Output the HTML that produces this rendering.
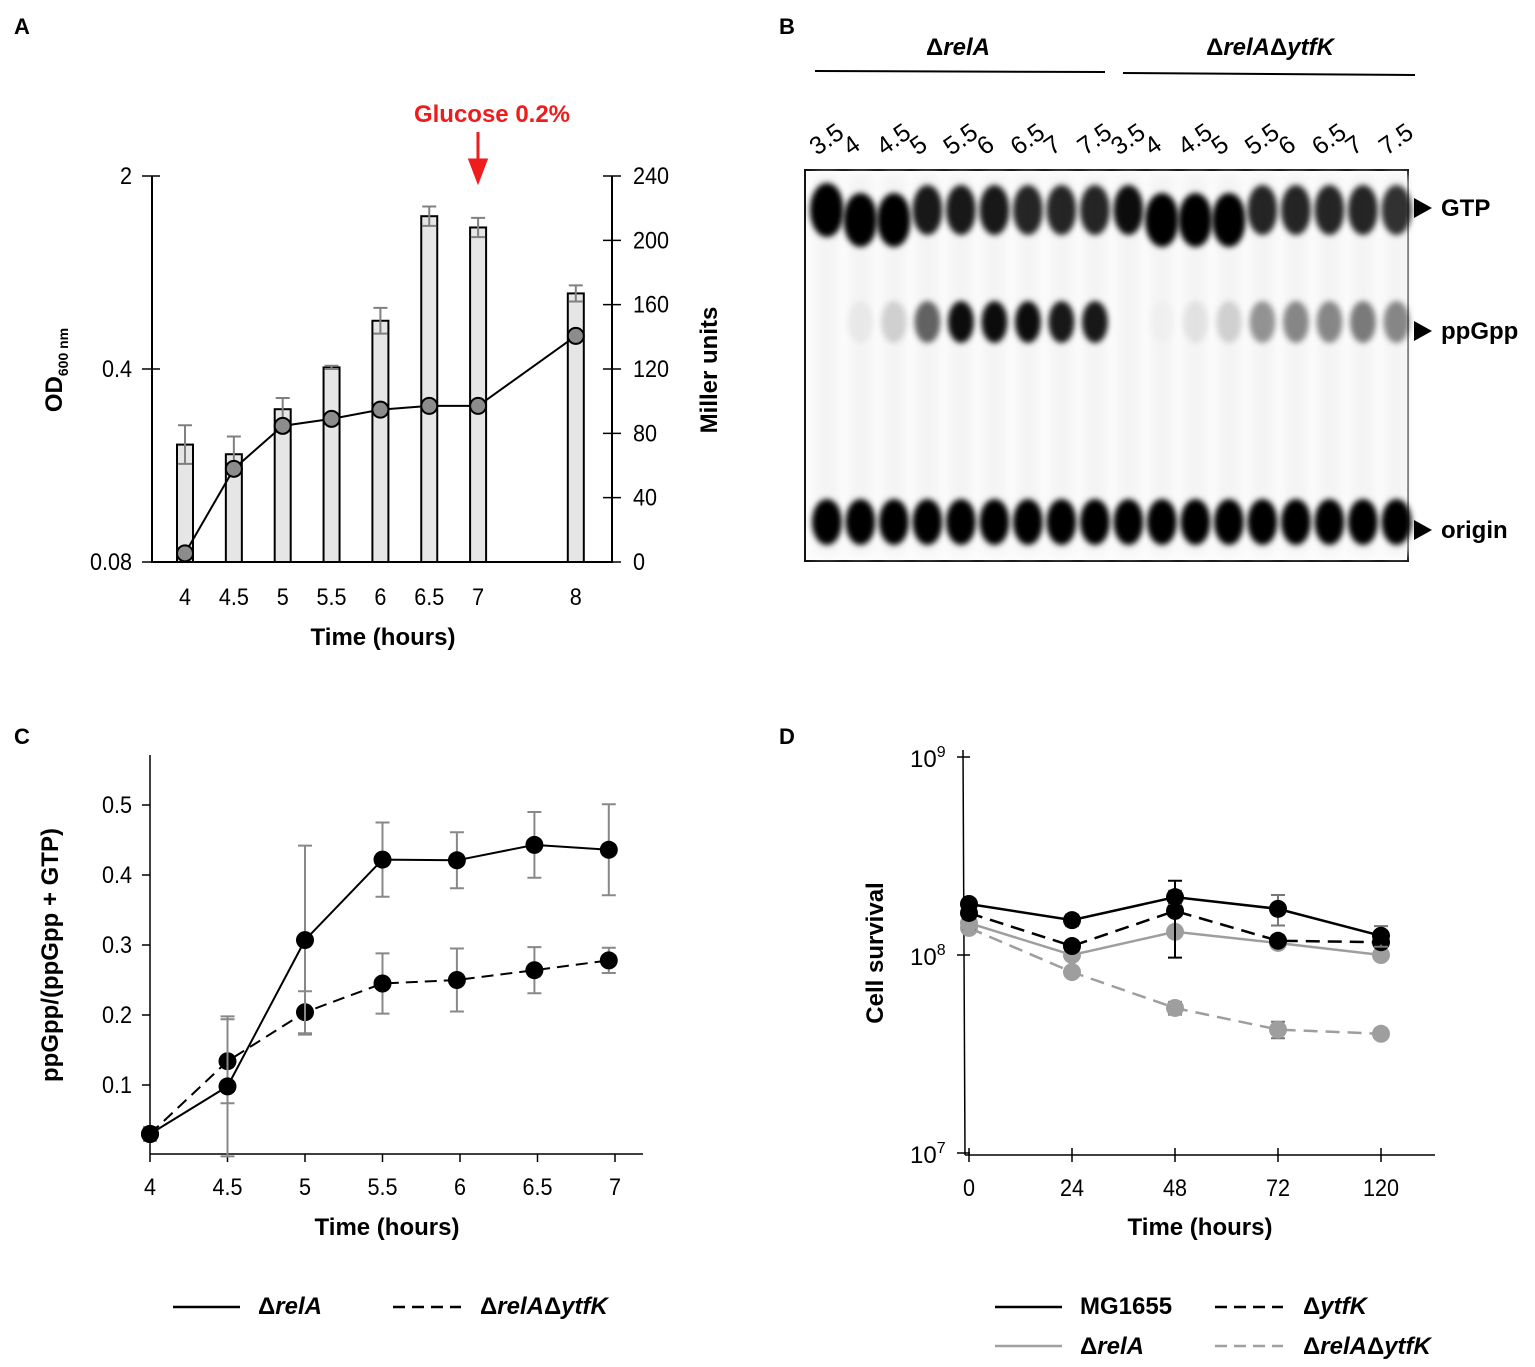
<!DOCTYPE html>
<html><head><meta charset="utf-8"><style>
html,body{margin:0;padding:0;background:#fff;}
svg{display:block;font-family:"Liberation Sans",Arial,sans-serif;}
.tk{font-size:24px;}
</style></head><body>
<svg id="fig" width="1535" height="1367" viewBox="0 0 1535 1367" xmlns="http://www.w3.org/2000/svg">
<defs>
<filter id="blur" x="-50%" y="-50%" width="200%" height="200%"><feGaussianBlur stdDeviation="3"/></filter>
<filter id="blur2" x="-50%" y="-50%" width="200%" height="200%"><feGaussianBlur stdDeviation="5"/></filter>
</defs>
<g font-weight="bold" font-size="22">
<text x="14" y="34">A</text>
<text x="779" y="34">B</text>
<text x="14" y="744">C</text>
<text x="779" y="744">D</text>
</g>
<g id="pa"></g>
<g id="pb"></g>
<g id="pc"></g>
<g id="pd"></g>
</svg>
<script>
// ---- Panel A data ----
const aTimes = [4, 4.5, 5, 5.5, 6, 6.5, 7, 8];
const aMiller = [73, 67, 95, 121, 150, 215, 208, 167];
const aMillerErr = [12, 11, 7, 1, 8, 6, 6, 5];
const aOD = [0.086, 0.174, 0.249, 0.264, 0.285, 0.294, 0.294, 0.527];
const aLeftTicks = [2, 0.4, 0.08];
const aRightTicks = [0, 40, 80, 120, 160, 200, 240];
// ---- Panel B data ----
const bLaneLabels = ["3.5","4","4.5","5","5.5","6","6.5","7","7.5","3.5","4","4.5","5","5.5","6","6.5","7","7.5"];
const bGTP = [1.0,1.0,1.0,0.9,0.9,0.9,0.85,0.85,0.85,0.95,1.0,1.0,1.0,0.85,0.85,0.85,0.85,0.8];
const bPpGpp = [0,0.05,0.15,0.6,0.95,0.95,0.95,0.9,0.9,0,0.02,0.08,0.15,0.4,0.45,0.45,0.5,0.45];
// ---- Panel C data ----
const cTimes = [4, 4.5, 5, 5.5, 5.98, 6.48, 6.96];
const cRelA = [0.03, 0.098, 0.307, 0.422, 0.421, 0.443, 0.436];
const cRelAErr = [0.005, 0.1, 0.135, 0.053, 0.04, 0.047, 0.065];
const cRelAYtfK = [0.03, 0.134, 0.204, 0.245, 0.25, 0.264, 0.278];
const cRelAYtfKErr = [0.01, 0.06, 0.03, 0.043, 0.045, 0.033, 0.018];
const cXTicks = [4, 4.5, 5, 5.5, 6, 6.5, 7];
const cYTicks = [0.1, 0.2, 0.3, 0.4, 0.5];
// ---- Panel D data ----
const dTimes = ["0", "24", "48", "72", "120"];
const dMG1655 = [1.81e8, 1.50e8, 1.96e8, 1.71e8, 1.25e8];
const dMG1655Err = [0.1e8, 0.1e8, 0.15e8, 0.3e8, 0.15e8];
const dYtfK = [1.63e8, 1.11e8, 1.67e8, 1.18e8, 1.16e8];
const dYtfKErr = [0.1e8, 0.05e8, 0.7e8, 0.05e8, 0.05e8];
const dRelA = [1.45e8, 1.0e8, 1.31e8, 1.15e8, 1.0e8];
const dRelAErr = [0.1e8, 0.05e8, 0.05e8, 0.05e8, 0.05e8];
const dRelAYtfK = [1.37e8, 0.82e8, 0.54e8, 0.42e8, 0.40e8];
const dRelAYtfKErr = [0.05e8, 0.03e8, 0.04e8, 0.04e8, 0.02e8];
const dYTicks = [7, 8, 9];

const NS = "http://www.w3.org/2000/svg";
function mk(parent, tag, attrs, text) {
  const e = document.createElementNS(NS, tag);
  for (const k in attrs) e.setAttribute(k, attrs[k]);
  if (text !== undefined) e.textContent = text;
  parent.appendChild(e);
  return e;
}
// condensed text helper: draws text scaled horizontally
function ctext(parent, x, y, anchor, size, str, sx) {
  sx = sx || 0.9;
  const t = mk(parent,'text',{transform:`translate(${x},${y}) scale(${sx},1)`,'text-anchor':anchor,'font-size':size},str);
  return t;
}

// ================= Panel A =================
(function(){
  const g = document.getElementById('pa');
  const xA = t => 185 + (t - 4) * 97.7;
  const yM = v => 562 - v * (386 / 240);
  const yOD = v => 562 - Math.log10(v / 0.08) / Math.log10(25) * 386;
  let e = mk(g,'line',{x1:152,y1:176,x2:152,y2:563,stroke:'#000','stroke-width':2});
   
  e = mk(g,'line',{x1:612,y1:176,x2:612,y2:563,stroke:'#000','stroke-width':2});
   
  e = mk(g,'line',{x1:152,y1:562,x2:612,y2:562,stroke:'#000','stroke-width':2});
   
  aLeftTicks.forEach(v => {
    const y = yOD(v);
    mk(g,'line',{x1:142,y1:y,x2:160,y2:y,stroke:'#000','stroke-width':1.5});
    const t = ctext(g,132,y+8,'end',24,String(v));
     
  });
  aRightTicks.forEach(v => {
    const y = yM(v);
    mk(g,'line',{x1:603,y1:y,x2:621,y2:y,stroke:'#000','stroke-width':1.5});
    const t = ctext(g,633,y+8,'start',24,String(v));
     
  });
  aTimes.forEach((tm,i) => {
    const x = xA(tm);
    const b = mk(g,'rect',{x:x-8,y:yM(aMiller[i]),width:16,height:562-yM(aMiller[i]),fill:'#e6e6e6',stroke:'#000','stroke-width':2});
     
    const y1 = yM(aMiller[i]+aMillerErr[i]), y2 = yM(aMiller[i]-aMillerErr[i]);
    mk(g,'path',{d:`M${x},${y1}V${y2}M${x-7},${y1}H${x+7}M${x-7},${y2}H${x+7}`,stroke:'#808080','stroke-width':2,fill:'none'});
    const t = ctext(g,x,605,'middle',24,String(tm));
     
  });
  const pl = mk(g,'polyline',{points:aTimes.map((t,i)=>xA(t)+','+yOD(aOD[i])).join(' '),fill:'none',stroke:'#000','stroke-width':2});
   
  aTimes.forEach((t,i)=>{
    const c = mk(g,'circle',{cx:xA(t),cy:yOD(aOD[i]),r:8,fill:'#8c8c8c',stroke:'#000','stroke-width':2});
     
  });
  let t = mk(g,'text',{x:383,y:645,'text-anchor':'middle','font-size':24,'font-weight':'bold'},'Time (hours)');
   
  t = mk(g,'text',{transform:'translate(62,370) rotate(-90)','text-anchor':'middle','font-size':24,'font-weight':'bold'});
   
  mk(t,'tspan',{},'OD');
  mk(t,'tspan',{'font-size':14,dy:6},'600 nm');
  t = mk(g,'text',{transform:'translate(717,370) rotate(-90)','text-anchor':'middle','font-size':24,'font-weight':'bold'},'Miller units');
   
  t = mk(g,'text',{x:492,y:122,'text-anchor':'middle','font-size':24,'font-weight':'bold',fill:'#ee1c1c'},'Glucose 0.2%');
   
  const ar = mk(g,'path',{d:'M478,132V165M470,160L478,181L486,160Z',stroke:'#ee1c1c','stroke-width':3,fill:'#ee1c1c'});
   
})();

// ================= Panel B =================
(function(){
  const g = document.getElementById('pb');
  let t = mk(g,'text',{x:958,y:55,'text-anchor':'middle','font-size':24,'font-weight':'bold'});
   
  mk(t,'tspan',{},'Δ'); mk(t,'tspan',{'font-style':'italic'},'relA');
  mk(g,'line',{x1:815,y1:71,x2:1105,y2:72,stroke:'#000','stroke-width':2});
  t = mk(g,'text',{x:1270,y:55,'text-anchor':'middle','font-size':24,'font-weight':'bold'});
   
  mk(t,'tspan',{},'Δ'); mk(t,'tspan',{'font-style':'italic'},'relA'); mk(t,'tspan',{},'Δ'); mk(t,'tspan',{'font-style':'italic'},'ytfK');
  mk(g,'line',{x1:1123,y1:73,x2:1415,y2:75,stroke:'#000','stroke-width':2});
  const gel = mk(g,'rect',{x:805,y:170,width:603,height:391,fill:'#fdfdfd',stroke:'#111','stroke-width':2});
   
  const lx = i => 827 + i * 33.5;
  const low = [1,2,10,11,12];
  bLaneLabels.forEach((lab,i)=>{
    const x = lx(i);
    mk(g,'rect',{x:x-12,y:175,width:24,height:380,fill:'#f4f4f4',filter:'url(#blur2)'});
    const dy = low.indexOf(i) >= 0 ? 10 : 0;
    const big = (i===10||i===11||i===12||i<3) ? 2 : 0;
    const gt = mk(g,'ellipse',{cx:x,cy:210+dy,rx:15+big,ry:25+big,fill:'#000','fill-opacity':bGTP[i],filter:'url(#blur)'});
     
    if (bPpGpp[i] > 0) {
      const p = mk(g,'ellipse',{cx:x,cy:322,rx:13,ry:21,fill:'#000','fill-opacity':bPpGpp[i],filter:'url(#blur)'});
       
    }
    const o = mk(g,'ellipse',{cx:x,cy:522,rx:15,ry:23,fill:'#000',filter:'url(#blur)'});
     
    const tt = mk(g,'text',{transform:`translate(${x-10},${156}) rotate(-35)`,'font-size':25},lab);
     
  });
  [['GTP',208],['ppGpp',331],['origin',530]].forEach(([n,y])=>{
    mk(g,'path',{d:`M1414,${y-10}L1432,${y}L1414,${y+10}Z`,fill:'#000'});
    const l = mk(g,'text',{x:1441,y:y+8,'font-size':24,'font-weight':'bold'},n);
     
  });
})();

// ================= Panel C =================
(function(){
  const g = document.getElementById('pc');
  const xC = t => 150 + (t - 4) * 155;
  const yC = v => 1155 - v * 700;
  let e = mk(g,'line',{x1:150,y1:755,x2:150,y2:1154,stroke:'#000','stroke-width':1.5});
   
  e = mk(g,'line',{x1:150,y1:1154,x2:643,y2:1154,stroke:'#000','stroke-width':1.5});
   
  cYTicks.forEach(v=>{
    const y = yC(v);
    mk(g,'line',{x1:142,y1:y,x2:150,y2:y,stroke:'#000','stroke-width':1.5});
    const t = ctext(g,132,y+8,'end',24,String(v));
     
  });
  cXTicks.forEach(v=>{
    const x = xC(v);
    mk(g,'line',{x1:x,y1:1154,x2:x,y2:1162,stroke:'#000','stroke-width':1.5});
    const t = ctext(g,x,1195,'middle',24,String(v));
     
  });
  function series(vals, errs, dash, name) {
    vals.forEach((v,i)=>{
      const x = xC(cTimes[i]), y1 = yC(v+errs[i]), y2 = yC(v-errs[i]);
      mk(g,'path',{d:`M${x},${y1}V${y2}M${x-7},${y1}H${x+7}M${x-7},${y2}H${x+7}`,stroke:'#888','stroke-width':2,fill:'none'});
    });
    const pl = mk(g,'polyline',{points:cTimes.map((t,i)=>xC(t)+','+yC(vals[i])).join(' '),fill:'none',stroke:'#000','stroke-width':2,'stroke-dasharray':dash});
     
    vals.forEach((v,i)=>{
      const c = mk(g,'circle',{cx:xC(cTimes[i]),cy:yC(v),r:9,fill:'#000'});
       
    });
  }
  series(cRelAYtfK, cRelAYtfKErr, '12,7', 'rela-ytfk');
  series(cRelA, cRelAErr, 'none', 'rela');
  let t = mk(g,'text',{x:387,y:1235,'text-anchor':'middle','font-size':24,'font-weight':'bold'},'Time (hours)');
   
  t = mk(g,'text',{transform:'translate(58,955) rotate(-90)','text-anchor':'middle','font-size':24,'font-weight':'bold'},'ppGpp/(ppGpp + GTP)');
   
  mk(g,'line',{x1:173,y1:1307,x2:240,y2:1307,stroke:'#000','stroke-width':2.5});
  t = mk(g,'text',{x:258,y:1314,'font-size':24,'font-weight':'bold'});
   
  mk(t,'tspan',{},'Δ'); mk(t,'tspan',{'font-style':'italic'},'relA');
  mk(g,'line',{x1:393,y1:1307,x2:461,y2:1307,stroke:'#000','stroke-width':2.5,'stroke-dasharray':'12,7'});
  t = mk(g,'text',{x:480,y:1314,'font-size':24,'font-weight':'bold'});
   
  mk(t,'tspan',{},'Δ'); mk(t,'tspan',{'font-style':'italic'},'relA'); mk(t,'tspan',{},'Δ'); mk(t,'tspan',{'font-style':'italic'},'ytfK');
})();

// ================= Panel D =================
(function(){
  const g = document.getElementById('pd');
  const xD = i => 969 + i * 103;
  const yD = v => 955 - (Math.log10(v) - 8) * 198;
  let e = mk(g,'line',{x1:963,y1:750,x2:965,y2:1155,stroke:'#000','stroke-width':1.5});
   
  e = mk(g,'line',{x1:965,y1:1155,x2:1435,y2:1155,stroke:'#000','stroke-width':1.5});
   
  dYTicks.forEach(p=>{
    const y = yD(Math.pow(10,p));
    mk(g,'line',{x1:957,y1:y,x2:970,y2:y,stroke:'#000','stroke-width':1.5});
    const t = mk(g,'text',{x:910,y:y+10,'font-size':24});
     
    mk(t,'tspan',{},'10'); mk(t,'tspan',{'font-size':16,dy:-10},String(p));
  });
  dTimes.forEach((lab,i)=>{
    const x = xD(i);
    mk(g,'line',{x1:x,y1:1148,x2:x,y2:1162,stroke:'#000','stroke-width':1.5});
    const t = ctext(g,x,1196,'middle',24,lab);
     
  });
  function series(vals, errs, color, ecolor, dash, name) {
    vals.forEach((v,i)=>{
      const x = xD(i), y1 = yD(v+errs[i]), y2 = yD(v-errs[i]);
      mk(g,'path',{d:`M${x},${y1}V${y2}M${x-7},${y1}H${x+7}M${x-7},${y2}H${x+7}`,stroke:ecolor,'stroke-width':2,fill:'none'});
    });
    const pl = mk(g,'polyline',{points:vals.map((v,i)=>xD(i)+','+yD(v)).join(' '),fill:'none',stroke:color,'stroke-width':2.5,'stroke-dasharray':dash});
     
    vals.forEach((v,i)=>{
      const c = mk(g,'circle',{cx:xD(i),cy:yD(v),r:9,fill:color});
       
    });
  }
  series(dRelAYtfK, dRelAYtfKErr, '#9e9e9e', '#777', '14,8', 'rela-ytfk');
  series(dRelA, dRelAErr, '#9e9e9e', '#777', 'none', 'rela');
  series(dYtfK, dYtfKErr, '#000', '#000', '14,8', 'ytfk');
  series(dMG1655, dMG1655Err, '#000', '#777', 'none', 'mg1655');
  let t = mk(g,'text',{x:1200,y:1235,'text-anchor':'middle','font-size':24,'font-weight':'bold'},'Time (hours)');
   
  t = mk(g,'text',{transform:'translate(883,953) rotate(-90)','text-anchor':'middle','font-size':24,'font-weight':'bold'},'Cell survival');
   
  mk(g,'line',{x1:995,y1:1307,x2:1062,y2:1307,stroke:'#000','stroke-width':2.5});
  t = mk(g,'text',{x:1080,y:1314,'font-size':24,'font-weight':'bold'},'MG1655');
   
  mk(g,'line',{x1:1215,y1:1307,x2:1283,y2:1307,stroke:'#000','stroke-width':2.5,'stroke-dasharray':'12,7'});
  t = mk(g,'text',{x:1303,y:1314,'font-size':24,'font-weight':'bold'});
   
  mk(t,'tspan',{},'Δ'); mk(t,'tspan',{'font-style':'italic'},'ytfK');
  mk(g,'line',{x1:995,y1:1346,x2:1062,y2:1346,stroke:'#a0a0a0','stroke-width':2.5});
  t = mk(g,'text',{x:1080,y:1354,'font-size':24,'font-weight':'bold'});
   
  mk(t,'tspan',{},'Δ'); mk(t,'tspan',{'font-style':'italic'},'relA');
  mk(g,'line',{x1:1215,y1:1346,x2:1283,y2:1346,stroke:'#a0a0a0','stroke-width':2.5,'stroke-dasharray':'12,7'});
  t = mk(g,'text',{x:1303,y:1354,'font-size':24,'font-weight':'bold'});
   
  mk(t,'tspan',{},'Δ'); mk(t,'tspan',{'font-style':'italic'},'relA'); mk(t,'tspan',{},'Δ'); mk(t,'tspan',{'font-style':'italic'},'ytfK');
})();
</script>
</body></html>
